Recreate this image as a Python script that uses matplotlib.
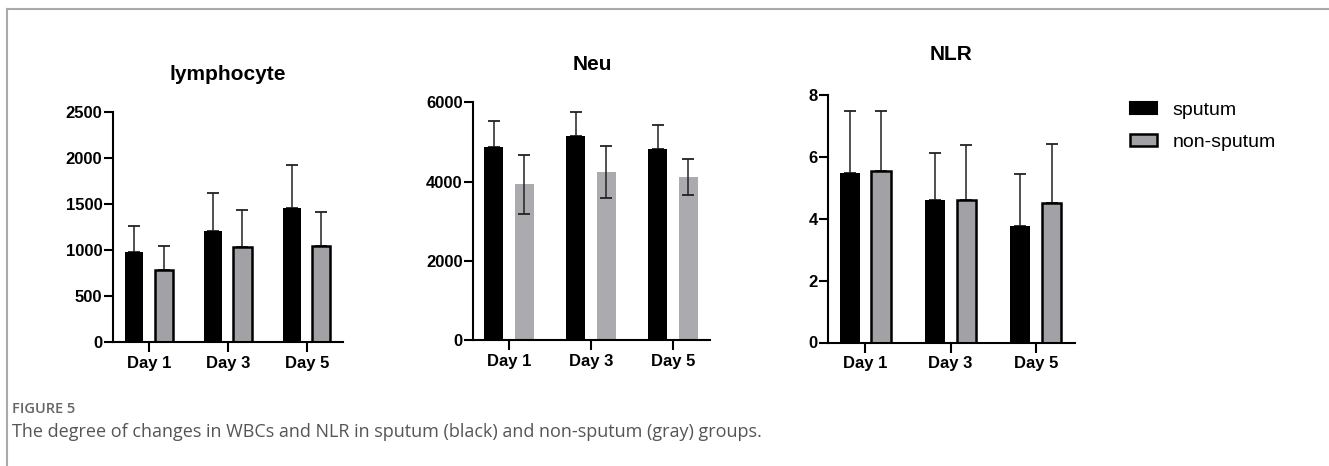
import numpy as np
import matplotlib
matplotlib.use("Agg")
import matplotlib.pyplot as plt
from matplotlib.patches import Patch
from matplotlib.lines import Line2D

# ======================
# DATA
# ======================
DAYS = ["Day 1", "Day 3", "Day 5"]

LYM_SPUTUM = [972, 1207, 1460]
LYM_SPUTUM_SD = [282, 408, 462]
LYM_NON = [780, 1033, 1037]
LYM_NON_SD = [257, 401, 372]

NEU_SPUTUM = [4864, 5159, 4830]
NEU_SPUTUM_SD = [665, 597, 598]
NEU_NON = [3930, 4241, 4115]
NEU_NON_SD = [745, 660, 460]

NLR_SPUTUM = [5.47, 4.60, 3.75]
NLR_SPUTUM_SD = [2.00, 1.52, 1.69]
NLR_NON = [5.55, 4.61, 4.52]
NLR_NON_SD = [1.92, 1.76, 1.89]

# ======================
# CONFIG
# ======================
W, H = 1329, 466
OUTPUT_PNG = "out.png"
GRAY = "#a2a2a6"
GRAY_LIGHT = "#ababaf"
plt.rcParams["font.family"] = ["Liberation Sans", "DejaVu Sans"]


def px_axes(fig, x0, x1, ytop, ybot):
    """axes from pixel box (y measured from top)"""
    return fig.add_axes([x0 / W, (H - ybot) / H, (x1 - x0) / W, (ybot - ytop) / H])


def draw_panel(ax, sput, sput_sd, non, non_sd, ymax, yticks, xlim, gray_style):
    x = np.arange(len(DAYS))
    off, bw = 0.185, 0.23
    ax.bar(x - off, sput, bw, color="black", zorder=2)
    ax.errorbar(x - off, sput, yerr=[np.zeros(3), sput_sd], fmt="none",
                ecolor="#222222", elinewidth=1.1, capsize=4, capthick=1.3, zorder=1)
    if gray_style == "outlined":
        ax.bar(x + off, non, bw, color=GRAY, edgecolor="black", linewidth=1.8, zorder=2)
        ax.errorbar(x + off, non, yerr=[np.zeros(3), non_sd], fmt="none",
                    ecolor="#222222", elinewidth=1.1, capsize=4, capthick=1.3, zorder=1)
    else:
        ax.bar(x + off, non, bw, color=GRAY_LIGHT, zorder=2)
        ax.errorbar(x + off, non, yerr=non_sd, fmt="none",
                    ecolor="#222222", elinewidth=1.1, capsize=4, capthick=1.3, zorder=3)

    ax.set_ylim(0, ymax)
    ax.set_xlim(*xlim)
    ax.set_yticks(yticks)
    ax.set_xticks(x)
    ax.set_xticklabels(DAYS)
    for s in ["top", "right"]:
        ax.spines[s].set_visible(False)
    for s in ["left", "bottom"]:
        ax.spines[s].set_linewidth(1.5)
    ax.tick_params(axis="y", length=6.5, width=1.5, labelsize=12, pad=1)
    ax.tick_params(axis="x", length=7, width=1.5, labelsize=12, pad=3)
    for lab in ax.get_xticklabels() + ax.get_yticklabels():
        lab.set_fontweight("bold")


def main():
    fig = plt.figure(figsize=(W / 100, H / 100), dpi=100)

    ax1 = px_axes(fig, 112.7, 343, 111.7, 342)
    draw_panel(ax1, LYM_SPUTUM, LYM_SPUTUM_SD, LYM_NON, LYM_NON_SD,
               2500, [0, 500, 1000, 1500, 2000, 2500], (-0.46, 2.46), "outlined")

    ax2 = px_axes(fig, 473, 710, 102.3, 340)
    draw_panel(ax2, NEU_SPUTUM, NEU_SPUTUM_SD, NEU_NON, NEU_NON_SD,
               6000, [0, 2000, 4000, 6000], (-0.44, 2.45), "plain")

    ax3 = px_axes(fig, 828, 1075, 95, 342.5)
    draw_panel(ax3, NLR_SPUTUM, NLR_SPUTUM_SD, NLR_NON, NLR_NON_SD,
               8, [0, 2, 4, 6, 8], (-0.44, 2.46), "outlined")

    # titles
    fig.text(228 / W, 1 - 75 / H, "lymphocyte", ha="center", va="center",
             fontsize=15, fontweight="bold")
    fig.text(592 / W, 1 - 65 / H, "Neu", ha="center", va="center",
             fontsize=15, fontweight="bold")
    fig.text(951 / W, 1 - 55 / H, "NLR", ha="center", va="center",
             fontsize=15, fontweight="bold")

    # legend
    handles = [Patch(facecolor="black", edgecolor="black", linewidth=1.5),
               Patch(facecolor=GRAY, edgecolor="black", linewidth=1.8)]
    fig.legend(handles, ["sputum", "non-sputum"], loc="upper left",
               bbox_to_anchor=(1130 / W, 1 - 102 / H), frameon=False,
               fontsize=14, handlelength=1.4, handleheight=0.6,
               handletextpad=0.77, labelspacing=0.75, borderpad=0,
               borderaxespad=0)

    # caption
    fig.text(12 / W, 1 - 409 / H, "FIGURE 5", ha="left", va="center",
             fontsize=10.5, color="#666666", family="Open Sans", fontweight="semibold")
    fig.text(12 / W, 1 - 432 / H,
             "The degree of changes in WBCs and NLR in sputum (black) and non-sputum (gray) groups.",
             ha="left", va="center", fontsize=13, color="#555555", family="Open Sans")

    # frame around the figure panel
    fig.add_artist(Line2D([7 / W, 7 / W], [0, 1 - 9 / H], transform=fig.transFigure,
                          color="#aaaaaa", linewidth=1.5))
    fig.add_artist(Line2D([7 / W, 1], [1 - 9 / H, 1 - 9 / H], transform=fig.transFigure,
                          color="#aaaaaa", linewidth=1.5))

    fig.savefig(OUTPUT_PNG, dpi=100)
    plt.close(fig)


if __name__ == "__main__":
    main()
